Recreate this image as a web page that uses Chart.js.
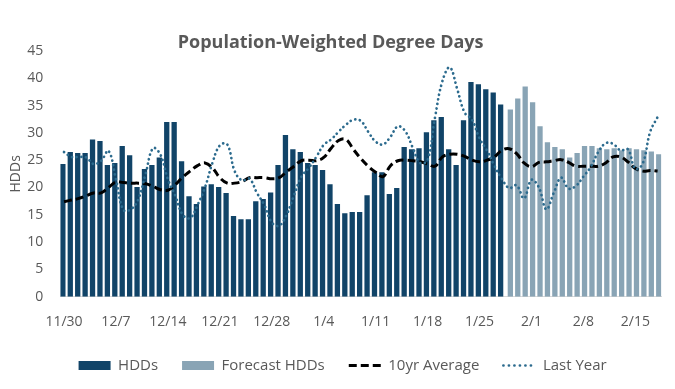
<!DOCTYPE html>
<html>
<head>
<meta charset="utf-8">
<script src="https://cdn.jsdelivr.net/npm/chart.js@4.4.1/dist/chart.umd.min.js"></script>
<style>
  html, body { margin: 0; padding: 0; background: #ffffff; }
  #wrap { width: 675px; height: 389px; }
</style>
</head>
<body>
<div id="wrap"><canvas id="c" width="675" height="389"></canvas></div>
<script>
const dates = [
  '11/30',
  '12/1','12/2','12/3','12/4','12/5','12/6','12/7','12/8','12/9','12/10','12/11','12/12','12/13','12/14','12/15','12/16',
  '12/17','12/18','12/19','12/20','12/21','12/22','12/23','12/24','12/25','12/26','12/27','12/28','12/29','12/30','12/31',
  '1/1','1/2','1/3','1/4','1/5','1/6','1/7','1/8','1/9','1/10','1/11','1/12','1/13','1/14','1/15','1/16',
  '1/17','1/18','1/19','1/20','1/21','1/22','1/23','1/24','1/25','1/26','1/27','1/28','1/29','1/30','1/31',
  '2/1','2/2','2/3','2/4','2/5','2/6','2/7','2/8','2/9','2/10','2/11','2/12','2/13','2/14','2/15','2/16','2/17','2/18'
];
const tickLabels = ['11/30','12/7','12/14','12/21','12/28','1/4','1/11','1/18','1/25','2/1','2/8','2/15'];

// Observed HDDs, 11/30 - 1/28
const hdds = [
  24.3, 26.5, 26.3, 26.3, 28.8, 28.5, 24.1, 24.5, 27.6, 25.9,
  20.1, 23.4, 24.1, 25.5, 32.0, 32.0, 24.8, 18.4, 17.0, 20.2,
  20.6, 20.1, 19.0, 14.8, 14.2, 14.2, 17.5, 17.9, 19.1, 24.1,
  29.6, 27.0, 26.5, 24.5, 24.1, 23.2, 20.6, 17.0, 15.3, 15.5,
  15.5, 18.6, 22.8, 22.8, 18.8, 19.9, 27.4, 27.0, 27.2, 30.1,
  32.3, 32.9, 27.0, 24.1, 32.3, 39.3, 38.9, 38.0, 37.4, 35.2
];
// Forecast HDDs, 1/29 - 2/18
const forecastHdds = [
  34.3, 36.3, 38.5, 35.6, 31.2, 28.3, 27.4, 27.0, 25.5, 26.3,
  27.6, 27.6, 27.2, 27.0, 27.2, 26.8, 27.2, 27.0, 26.8, 26.6, 26.1
];
const tenYearAvg = [
  17.4, 17.7, 18.0, 18.5, 19.0, 19.0, 20.0, 21.0, 20.9, 20.8,
  20.8, 20.7, 20.2, 19.6, 19.5, 20.5, 21.9, 23.0, 24.0, 24.5,
  23.6, 21.8, 20.8, 20.8, 21.1, 21.8, 21.8, 21.8, 21.6, 21.8,
  22.9, 23.9, 24.9, 25.0, 24.9, 25.5, 27.2, 28.6, 28.8, 27.0,
  25.3, 23.9, 22.8, 22.0, 24.0, 24.9, 25.0, 24.9, 24.7, 24.3,
  23.9, 25.6, 26.1, 26.1, 25.7, 25.0, 24.7, 25.0, 25.6, 26.8,
  27.1, 26.2, 24.5, 23.8, 24.6, 24.7, 24.9, 25.1, 24.6, 23.9,
  23.9, 23.9, 23.9, 24.5, 25.6, 25.6, 24.7, 23.5, 23.0, 23.1, 23.0
];
const lastYear = [
  26.5, 25.6, 25.6, 25.5, 24.3, 24.9, 26.7, 21.5, 15.9, 16.0,
  17.8, 22.5, 27.2, 26.0, 21.5, 18.5, 15.0, 14.4, 16.8, 20.0,
  24.5, 27.7, 27.9, 23.0, 21.3, 21.6, 19.0, 16.8, 13.6, 13.0,
  15.0, 18.6, 22.0, 23.6, 25.6, 27.8, 28.8, 30.2, 31.5, 32.4,
  32.2, 30.2, 28.4, 27.9, 29.3, 31.2, 30.3, 27.3, 24.5, 25.0,
  32.8, 39.5, 42.0, 38.0, 33.7, 32.4, 29.0, 26.8, 24.0, 21.6,
  19.9, 20.4, 18.0, 21.4, 20.0, 16.0, 19.0, 21.8, 19.8, 20.3,
  22.0, 23.8, 26.5, 28.1, 28.0, 26.8, 27.0, 23.4, 24.4, 30.2, 32.9
];
const seriesNames = ['HDDs', 'Forecast HDDs', '10yr Average', 'Last Year'];

const FONT = "'Open Sans', 'Noto Sans', sans-serif";
const TEXT = '#595959';
const C_HDD = '#114468';
const C_FC = '#89a4b5';
const C_AVG = '#000000';
const C_LY = '#2c6b8e';

const hddData = dates.map((d, i) => i < hdds.length ? hdds[i] : null);
const fcData = dates.map((d, i) => i >= hdds.length ? forecastHdds[i - hdds.length] : null);

const legendStyles = [
  { fill: C_HDD, stroke: C_HDD, width: 0, dash: [], cap: 'butt', style: 'rect' },
  { fill: C_FC, stroke: C_FC, width: 0, dash: [], cap: 'butt', style: 'rect' },
  { fill: 'rgba(0,0,0,0)', stroke: C_AVG, width: 3, dash: [8, 4], cap: 'butt', style: 'line' },
  { fill: 'rgba(0,0,0,0)', stroke: C_LY, width: 2.7, dash: [0.1, 5.4], cap: 'round', style: 'line' }
];

// shift the legend block slightly right, as in the original layout
const legendShift = {
  id: 'legendShift',
  afterLayout(chart) {
    const lg = chart.legend;
    if (lg && !lg._shifted) { lg.left += 12; lg.right += 12; lg._shifted = true; }
  }
};

new Chart(document.getElementById('c'), {
  plugins: [legendShift],
  data: {
    labels: dates,
    datasets: [
      { type: 'bar', label: seriesNames[0], data: hddData, backgroundColor: C_HDD,
        categoryPercentage: 0.62, barPercentage: 2.3, order: 2 },
      { type: 'bar', label: seriesNames[1], data: fcData, backgroundColor: C_FC,
        categoryPercentage: 0.62, barPercentage: 2.3, order: 2 },
      { type: 'line', label: seriesNames[2], data: tenYearAvg, borderColor: C_AVG, borderWidth: 3,
        borderDash: [8, 4], pointRadius: 0, tension: 0.4, fill: false, order: 1 },
      { type: 'line', label: seriesNames[3], data: lastYear, borderColor: C_LY, borderWidth: 2.7,
        borderDash: [0.1, 4.6], borderCapStyle: 'round', pointRadius: 0, tension: 0.4, fill: false, order: 0 }
    ]
  },
  options: {
    responsive: false,
    animation: false,
    devicePixelRatio: 1,
    layout: { padding: { left: 0, right: 13.7, top: 34, bottom: 6 } },
    plugins: {
      title: {
        display: true,
        text: 'Population-Weighted Degree Days',
        color: TEXT,
        font: { family: FONT, size: 18, weight: 'bold', lineHeight: '17px' },
        padding: { top: 0, bottom: 0 }
      },
      legend: {
        position: 'bottom',
        labels: {
          color: TEXT,
          font: { family: FONT, size: 15 },
          usePointStyle: true,
          pointStyleWidth: 32,
          boxHeight: 9,
          padding: 24,
          generateLabels: (chart) => chart.data.datasets.map((ds, i) => ({
            text: ds.label,
            fillStyle: legendStyles[i].fill,
            strokeStyle: legendStyles[i].stroke,
            lineWidth: legendStyles[i].width,
            lineDash: legendStyles[i].dash,
            lineCap: legendStyles[i].cap,
            pointStyle: legendStyles[i].style,
            fontColor: TEXT,
            hidden: false,
            datasetIndex: i
          }))
        }
      },
      tooltip: { enabled: false }
    },
    scales: {
      x: {
        grid: { display: false, drawTicks: false },
        border: { display: true, color: '#d9d9d9', width: 1 },
        ticks: {
          autoSkip: false,
          maxRotation: 0,
          minRotation: 0,
          padding: 17,
          color: TEXT,
          font: { family: FONT, size: 14 },
          callback: (v, i) => tickLabels.includes(dates[i]) ? dates[i] : ''
        },
        afterFit: (s) => { s.height = 37.3; }
      },
      y: {
        min: 0,
        max: 45,
        grid: { display: false, drawTicks: false },
        border: { display: false },
        ticks: { stepSize: 5, padding: 17, color: TEXT, font: { family: FONT, size: 14 } },
        title: { display: true, text: 'HDDs', color: TEXT, font: { family: FONT, size: 14 }, padding: { top: 8, bottom: 0 } },
        afterFit: (s) => { s.width = 60.3; }
      }
    }
  }
});
</script>
</body>
</html>
